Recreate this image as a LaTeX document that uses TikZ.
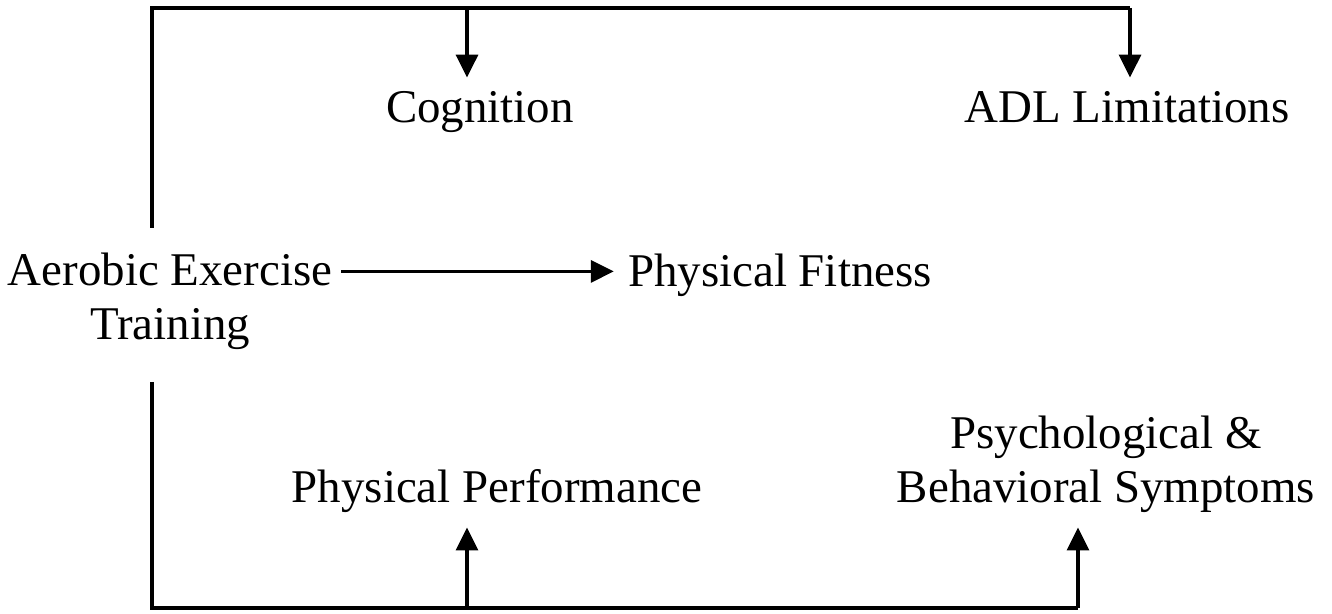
\documentclass[tikz,border=0pt]{standalone}
\usepackage{fontspec}
\setmainfont{Liberation Serif}
\usetikzlibrary{arrows.meta}
\begin{document}
\begin{tikzpicture}[x=0.02cm,y=-0.02cm]
        % Styles
        \tikzstyle{box text}=[inner sep=8pt,align=center,font=\fontsize{26.7}{31.3}\selectfont]
        \tikzstyle{link}=[line width=1.8pt]
        \tikzstyle{link arrow}=[link,-{Triangle[length=13pt,width=12.5pt]}]
        \useasboundingbox (0,0) rectangle (1332,614);
        %nodes (base = last line)
        \node[box text,anchor=base] (cog) at (480,123) {Cognition};
        \node[box text,anchor=base] (adl) at (1127,123) {ADL Limitations};
        \node[box text,anchor=base] (aet) at (170,340) {Aerobic Exercise\\Training};
        \node[box text,anchor=base] (fit) at (780,287) {Physical Fitness};
        \node[box text,anchor=base] (perf) at (497,503) {Physical Performance};
        \node[box text,anchor=base] (psy) at (1106,503) {Psychological \&\\Behavioral Symptoms};
        %routing points
        \coordinate (top start) at (152,228);
        \coordinate (top left) at (152,8);
        \coordinate (top cog) at (467,8);
        \coordinate (top adl) at (1130,8);
        \coordinate (bot start) at (152,382);
        \coordinate (bot left) at (152,608);
        \coordinate (bot perf) at (467,608);
        \coordinate (bot psy) at (1078,608);
        %connectors
        \draw[link] (top start) -- (top left) -- (top adl);
        \draw[link arrow] (top cog) -- (top cog |- cog.north);
        \draw[link arrow] (top adl) -- (top adl |- adl.north);
        \draw[link arrow] ([xshift=-3pt,yshift=2.5pt]aet.east |- fit.west) -- ([yshift=2.5pt]fit.west);
        \draw[link] (bot start) -- (bot left) -- (bot psy);
        \draw[link arrow] (bot perf) -- (bot perf |- perf.south);
        \draw[link arrow] (bot psy) -- (bot psy |- psy.south);
\end{tikzpicture}
\end{document}
